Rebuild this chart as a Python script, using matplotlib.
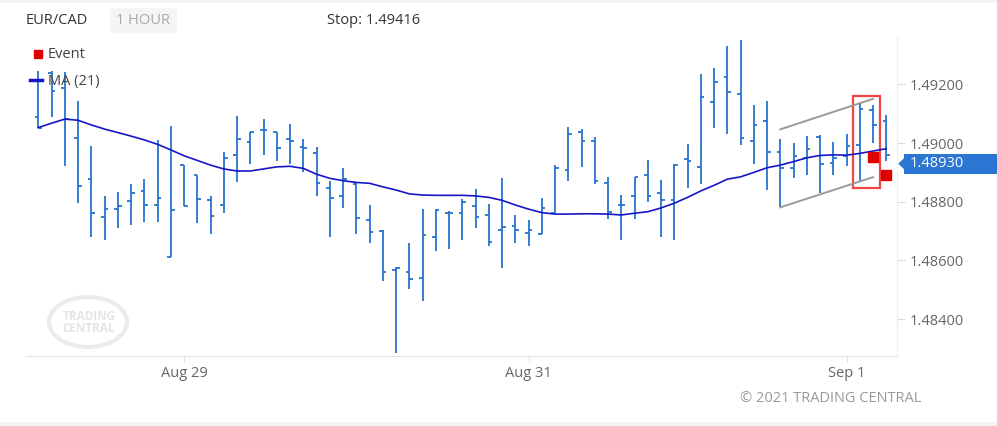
import numpy as np
import matplotlib.pyplot as plt
import matplotlib.transforms as mtransforms
from matplotlib.patches import Rectangle, Ellipse, Polygon, FancyBboxPatch
from matplotlib.lines import Line2D

plt.rcParams['font.family'] = ['Open Sans', 'DejaVu Sans']

# EUR/CAD 1 hour bars
opens = [1.49089, 1.49240, 1.49187, 1.49016, 1.48877, 1.48747, 1.48774, 1.48803, 1.48837, 1.48788,
         1.48610, 1.48924, 1.48891, 1.48805, 1.48789, 1.48958, 1.49003, 1.49044, 1.49038, 1.49013,
         1.48986, 1.48967, 1.48848, 1.48821, 1.48862, 1.48737, 1.48699, 1.48566, 1.48559, 1.48540,
         1.48679, 1.48761, 1.48761, 1.48784, 1.48754, 1.48703, 1.48716, 1.48692, 1.48690, 1.48761,
         1.48909, 1.49037, 1.49007, 1.48863, 1.48788, 1.48820, 1.48890, 1.48831, 1.48805, 1.48945,
         1.48919, 1.49139, 1.49225, 1.49167, 1.49006, 1.49074, 1.48969, 1.48914, 1.48949, 1.49021,
         1.48932, 1.48957, 1.48994, 1.49113, 1.49075]
highs = [1.49246, 1.49246, 1.49243, 1.49144, 1.48990, 1.48820, 1.48833, 1.48861, 1.48878, 1.49011,
         1.49058, 1.48924, 1.48891, 1.48820, 1.48970, 1.49093, 1.49039, 1.49082, 1.49038, 1.49065,
         1.49014, 1.48987, 1.48871, 1.48915, 1.48865, 1.48789, 1.48704, 1.48576, 1.48659, 1.48775,
         1.48775, 1.48768, 1.48809, 1.48843, 1.48791, 1.48881, 1.48755, 1.48738, 1.48812, 1.48925,
         1.49055, 1.49047, 1.49021, 1.48884, 1.48823, 1.48885, 1.48942, 1.48874, 1.48929, 1.48997,
         1.49236, 1.49256, 1.49331, 1.49352, 1.49130, 1.49144, 1.49013, 1.49000, 1.49024, 1.49028,
         1.49004, 1.49031, 1.49136, 1.49130, 1.49096]
lows = [1.49053, 1.49090, 1.48923, 1.48797, 1.48681, 1.48670, 1.48711, 1.48721, 1.48732, 1.48732,
        1.48610, 1.48785, 1.48726, 1.48691, 1.48763, 1.48868, 1.48929, 1.48959, 1.48939, 1.48929,
        1.48902, 1.48821, 1.48681, 1.48780, 1.48691, 1.48660, 1.48531, 1.48285, 1.48503, 1.48462,
        1.48633, 1.48640, 1.48670, 1.48711, 1.48650, 1.48575, 1.48660, 1.48650, 1.48690, 1.48761,
        1.48872, 1.48920, 1.48862, 1.48742, 1.48670, 1.48742, 1.48800, 1.48681, 1.48670, 1.48848,
        1.48862, 1.49053, 1.49032, 1.48995, 1.48930, 1.48841, 1.48781, 1.48882, 1.48891, 1.48831,
        1.48891, 1.48921, 1.48871, 1.49001, 1.48940]
closes = [1.49053, 1.49179, 1.49082, 1.48853, 1.48761, 1.48774, 1.48784, 1.48829, 1.48789, 1.48812,
          1.48772, 1.48785, 1.48809, 1.48750, 1.48950, 1.49013, 1.49039, 1.49044, 1.48982, 1.49007,
          1.48983, 1.48863, 1.48812, 1.48877, 1.48743, 1.48698, 1.48561, 1.48575, 1.48537, 1.48685,
          1.48773, 1.48763, 1.48798, 1.48749, 1.48663, 1.48713, 1.48705, 1.48705, 1.48778, 1.48914,
          1.49032, 1.49007, 1.48870, 1.48766, 1.48790, 1.48884, 1.48819, 1.48805, 1.48924, 1.48938,
          1.49156, 1.49208, 1.49173, 1.49016, 1.49063, 1.48971, 1.48915, 1.48955, 1.48980, 1.48928,
          1.48950, 1.48991, 1.49116, 1.49062, 1.48960]
ma21 = [1.49053, 1.49068, 1.49082, 1.49078, 1.49062, 1.49048, 1.49036, 1.49024, 1.49011, 1.48996,
        1.48977, 1.48957, 1.48941, 1.48925, 1.48912, 1.48905, 1.48905, 1.48912, 1.48919, 1.48921,
        1.48914, 1.48894, 1.48880, 1.48872, 1.48866, 1.48863, 1.48851, 1.48840, 1.48827, 1.48823,
        1.48822, 1.48822, 1.48822, 1.48820, 1.48815, 1.48805, 1.48789, 1.48775, 1.48763, 1.48758,
        1.48758, 1.48759, 1.48759, 1.48758, 1.48755, 1.48761, 1.48766, 1.48779, 1.48795, 1.48815,
        1.48837, 1.48856, 1.48877, 1.48885, 1.48900, 1.48916, 1.48925, 1.48937, 1.48950, 1.48958,
        1.48960, 1.48959, 1.48965, 1.48973, 1.48981]

date_pos = [11, 37, 61]
date_labels = ['Aug 29', 'Aug 31', 'Sep 1']
price_ticks = [1.484, 1.486, 1.488, 1.490, 1.492]

# pattern channel
channel_x = [56, 63]
channel_upper = [1.49047, 1.49151]
channel_lower = [1.48781, 1.48884]

# highlight box
box_x = [61.5, 63.5]
box_y = [1.48846, 1.49161]

# event markers
event_x = [63, 64]
event_y = [1.48953, 1.48891]

last_price = 1.48930
stop_level = 1.49416

W, H = 997, 426
fig = plt.figure(figsize=(W / 100, H / 100), dpi=100)
ax = fig.add_axes([27 / W, (H - 356) / H, 870 / W, 319 / H])

def fpx(x, y):
    return x / W, 1 - y / H

# bars
bar_blue = '#2673d1'
x = np.arange(len(opens))
ax.vlines(x, lows, highs, color=bar_blue, lw=1.3)
ax.hlines(opens, x - 0.28, x, color=bar_blue, lw=1.3)
ax.hlines(closes, x, x + 0.28, color=bar_blue, lw=1.3)

# moving average
ma_blue = '#1616c6'
ax.plot(x, ma21, color=ma_blue, lw=1.2)

# channel and box
ax.plot(channel_x, channel_upper, color='#9a9a9a', lw=1.4)
ax.plot(channel_x, channel_lower, color='#9a9a9a', lw=1.4)
ax.add_patch(Rectangle((box_x[0], box_y[0]), box_x[1] - box_x[0], box_y[1] - box_y[0],
                       fill=False, ec='#ef4545', lw=1.6))
ax.plot(event_x, event_y, 's', color='#e00000', ms=6.8, ls='none', clip_on=False)

ax.set_xlim(-0.853, 64.81)
ax.set_ylim(1.48274, 1.49362)

for side in ['top', 'left']:
    ax.spines[side].set_visible(False)
ax.spines['bottom'].set_color('#e3e3e3')
ax.spines['right'].set_color('#eeeeee')

ax.yaxis.tick_right()
ax.set_yticks(price_ticks, ['%.5f' % p for p in price_ticks])
ax.tick_params(axis='y', length=5.5, color='#dddddd', labelcolor='#666666', labelsize=10.5, pad=3.5)
ax.set_xticks(date_pos, date_labels)
ax.tick_params(axis='x', length=4.5, color='#e3e3e3', labelcolor='#666666', labelsize=10.5, pad=2.5)

# current price tag
blend = mtransforms.blended_transform_factory(ax.transAxes, ax.transData)
tag_h = 0.00068
ax.add_patch(Rectangle((1.008, last_price - tag_h / 2), 0.12, tag_h, transform=blend,
                       fc='#2a76d2', ec='none', clip_on=False))
ax.add_patch(Polygon([(1.0014, last_price), (1.0085, last_price + 0.0002),
                      (1.0085, last_price - 0.0002)], closed=True, transform=blend,
                     fc='#2a76d2', ec='none', clip_on=False))
ax.text(1.015, last_price, '%.5f' % last_price, transform=blend, color='white',
        fontsize=10.5, va='center', ha='left')

# header
fig.text(*fpx(26, 20), 'EUR/CAD', color='#333333', fontsize=10.5, va='center')
fig.patches.append(FancyBboxPatch(fpx(110, 33), 67 / W, 25 / H, boxstyle='round,pad=0,rounding_size=0.004',
                                  transform=fig.transFigure, fc='#f5f5f5', ec='none'))
fig.text(*fpx(116, 20), '1 HOUR', color='#a8a8a8', fontsize=10.5, va='center')
fig.text(*fpx(327, 20), 'Stop: %.5f' % stop_level, color='#333333', fontsize=10.5, va='center')

# legend
fig.add_artist(Line2D([37.5 / W], [1 - 54 / H], marker='s', color='#e00000', ms=6, ls='none'))
fig.text(*fpx(48, 54), 'Event', color='#444444', fontsize=10.5, va='center')
fig.add_artist(Line2D([30 / W, 42 / W], [1 - 80 / H, 1 - 80 / H], color=ma_blue, lw=2.5))
fig.text(*fpx(48, 81), 'MA (21)', color='#444444', fontsize=10.5, va='center')

# watermark
fig.patches.append(Ellipse(fpx(88, 322), 78 / W, 50 / H, transform=fig.transFigure,
                           fill=False, ec='#ebebeb', lw=3))
fig.text(*fpx(89, 323), 'TRADING\nCENTRAL', color='#e4e4e4', fontsize=8.5, fontweight='bold',
         ha='center', va='center', linespacing=0.9)

fig.text(*fpx(740, 399), '\u00a9 2021 TRADING CENTRAL', color='#9a9a9a', fontsize=10.5, va='center')

# widget border bands
fig.patches.append(Rectangle((0, 1 - 3 / H), 1, 3 / H, transform=fig.transFigure, fc='#f3f3f3', ec='none'))
fig.patches.append(Rectangle((0, 0), 1, 4 / H, transform=fig.transFigure, fc='#f3f3f3', ec='none'))

fig.savefig('out.png', dpi=100)
